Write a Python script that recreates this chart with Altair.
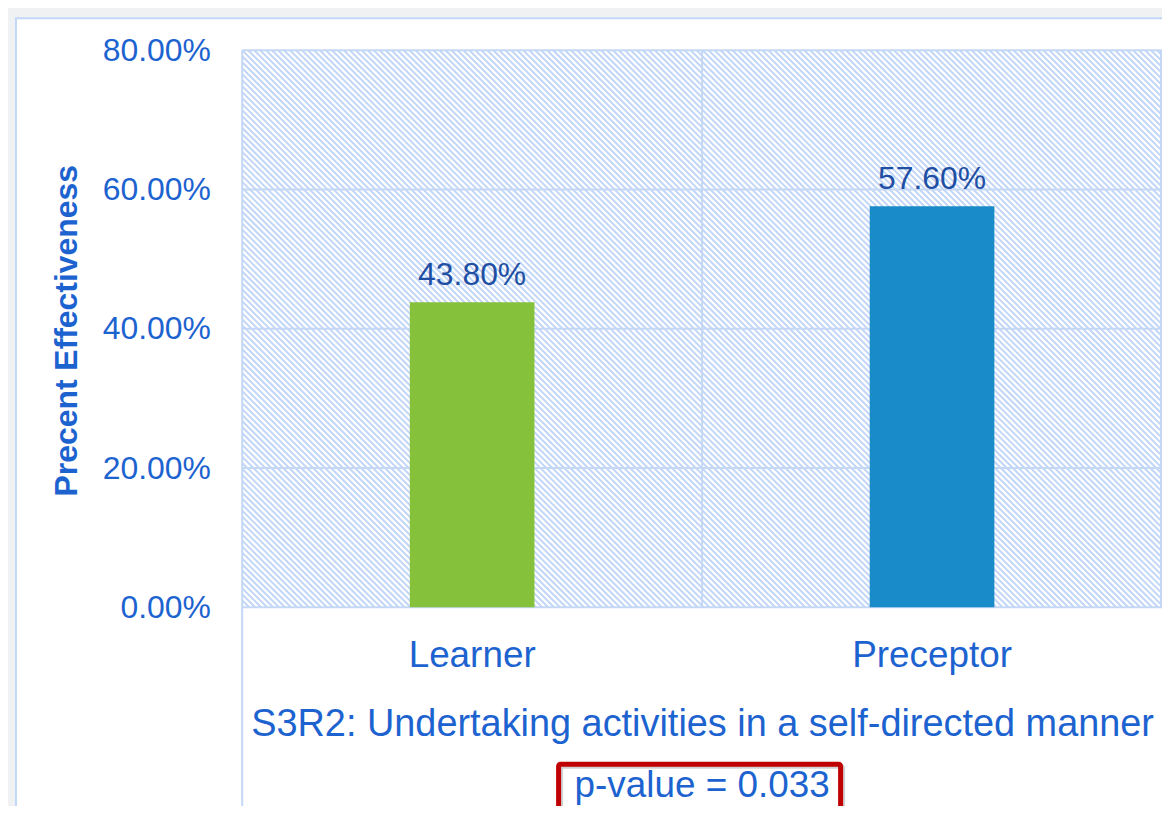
import altair as alt
import pandas as pd

# ---- data ----
categories = ["Learner", "Preceptor"]
values = [0.438, 0.576]
bar_colors = ["#85c13b", "#1a8bc9"]
y_ticks = [0.0, 0.2, 0.4, 0.6, 0.8]
x_title = "S3R2: Undertaking activities in a self-directed manner"
y_title = "Precent Effectiveness"
p_text = "p-value = 0.033"

# ---- styling ----
W, H = 923, 559
FONT = "Liberation Sans"
AXIS_BLUE = "#1d63d0"
LABEL_BLUE = "#1f4fa3"
GRID = "#c4d8f6"
HATCH = "#c2d6f7"
CARD_BORDER = "#c3d8f8"
STEP = 6  # hatch spacing in px

df = pd.DataFrame({"category": categories, "value": values, "color": bar_colors})
ticks_df = pd.DataFrame({"value": y_ticks})
one = pd.DataFrame({"k": [0]})

yscale = alt.Scale(domain=[0, 0.8], nice=False, zero=True)
xscale = alt.Scale(paddingInner=0, paddingOuter=0)

card = alt.Chart(one).mark_rect(fill="white", stroke=CARD_BORDER, strokeWidth=2).encode(
    x=alt.value(-227), x2=alt.value(W + 30), y=alt.value(-32), y2=alt.value(H + 260)
)

# diagonal background hatch (pure decoration, pixel space)
hatch = (
    alt.Chart(alt.sequence(-(H // STEP) - 2, W // STEP + 3, as_="i"))
    .transform_calculate(hx1=f"datum.i * {STEP}", hx2=f"datum.i * {STEP} + {H}")
    .mark_rule(clip=True, color=HATCH, strokeWidth=2)
    .encode(
        x=alt.X("hx1:Q", scale=None, axis=None),
        x2="hx2:Q",
        y=alt.value(0),
        y2=alt.value(H),
    )
)

hrules = alt.Chart(ticks_df).mark_rule(color=GRID, strokeWidth=2).encode(
    y=alt.Y("value:Q", scale=yscale)
)

vmid = alt.Chart(one).mark_rule(color=GRID, strokeWidth=2).encode(
    x=alt.value(W / 2), y=alt.value(0), y2=alt.value(H)
)
vright = alt.Chart(one).mark_rule(color=GRID, strokeWidth=2).encode(
    x=alt.value(W - 1), y=alt.value(0), y2=alt.value(H)
)
vleft = alt.Chart(one).mark_rule(color=GRID, strokeWidth=2).encode(
    x=alt.value(0), y=alt.value(0), y2=alt.value(H + 210)
)

bars = alt.Chart(df).mark_bar(width={"band": 0.271}).encode(
    x=alt.X(
        "category:N",
        sort=categories,
        scale=xscale,
        axis=alt.Axis(
            title=x_title,
            labelAngle=0,
            labelPadding=59,
            labelBaseline="alphabetic",
            labelFontSize=37,
            titleFontSize=38,
            titleFontWeight="normal",
            titleX=W / 2,
            titleY=129,
            titleAlign="center",
            titleBaseline="alphabetic",
            zindex=2,
        ),
    ),
    y=alt.Y(
        "value:Q",
        scale=yscale,
        axis=alt.Axis(
            title=y_title,
            values=y_ticks,
            format=".2%",
            labelPadding=32,
            labelFontSize=32,
            titleFontSize=32,
            titleFontWeight="bold",
            titleAngle=270,
            titleBaseline="alphabetic",
            titleAlign="center",
            titleX=-166,
            titleY=281,
            zindex=2,
        ),
    ),
    color=alt.Color("color:N", scale=None),
)

labels = alt.Chart(df).mark_text(
    dy=-17, baseline="alphabetic", fontSize=32, font=FONT, color=LABEL_BLUE
).encode(
    x=alt.X("category:N", sort=categories),
    y=alt.Y("value:Q"),
    text=alt.Text("value:Q", format=".2%"),
)

shadow = alt.Chart(one).mark_rect(
    filled=False, stroke="#000000", strokeOpacity=0.18, strokeWidth=5, cornerRadius=2
).encode(x=alt.value(319.5), x2=alt.value(602.5), y=alt.value(718.5), y2=alt.value(820))

box = alt.Chart(one).mark_rect(
    filled=False, stroke="#c00000", strokeWidth=5, cornerRadius=2
).encode(x=alt.value(317.5), x2=alt.value(600.5), y=alt.value(716.5), y2=alt.value(820))

ptext = alt.Chart(one).mark_text(
    fontSize=37, font=FONT, color=AXIS_BLUE, baseline="alphabetic", align="center"
).encode(x=alt.value(W / 2), y=alt.value(749), text=alt.value(p_text))

chart = (
    alt.layer(card, hatch, hrules, vmid, vright, vleft, bars, labels, shadow, box, ptext)
    .properties(
        width=W,
        height=H,
        autosize=alt.AutoSizeParams(type="none"),
        padding={"left": 235, "top": 41, "right": 0, "bottom": 198},
        background="#f0f1f3",
    )
    .configure_view(stroke=None)
    .configure_axis(
        domain=False,
        ticks=False,
        tickSize=0,
        grid=False,
        labelFont=FONT,
        titleFont=FONT,
        labelColor=AXIS_BLUE,
        titleColor=AXIS_BLUE,
    )
)

chart.save("out.html", embed_options={"renderer": "svg", "actions": False})
